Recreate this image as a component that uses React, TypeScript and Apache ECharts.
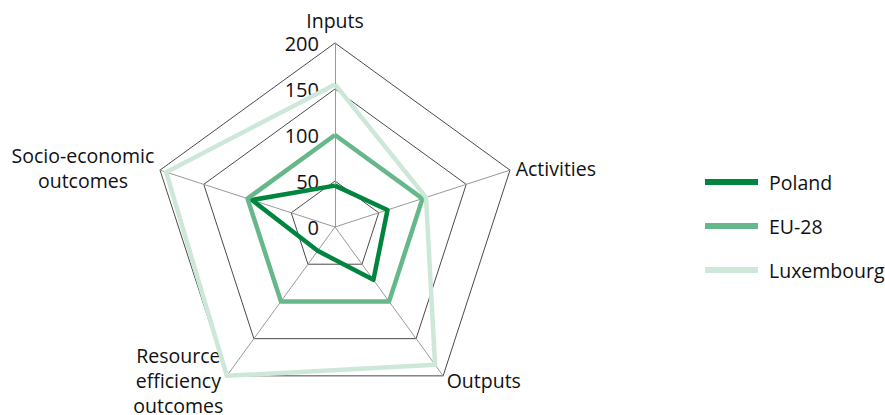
import React, { useEffect, useRef } from "react";
import * as echarts from "echarts";

// Indicators in clockwise order starting at the top
const indicators = ["Inputs", "Activities", "Outputs", "Resource\nefficiency\noutcomes", "Socio-economic\noutcomes"];
const poland = [45, 60, 71, 32, 95];
const eu28 = [100, 100, 100, 100, 100];
const luxembourg = [155, 104, 185, 200, 193];
const seriesNames = ["Poland", "EU-28", "Luxembourg"];
const tickMin = 0;
const tickMax = 200;
const colors = ["#00853f", "#66b88a", "#cde8d8"];

// ECharts radar runs counter-clockwise; reorder so the picture runs clockwise
const order = [0, 4, 3, 2, 1];

export default function App() {
  const ref = useRef<HTMLDivElement>(null);
  useEffect(() => {
    document.body.style.margin = "0";
    const chart = echarts.init(ref.current!, null, { renderer: "svg" });
    const font = "'Open Sans', sans-serif";
    const fs = 19.5;
    const data = [poland, eu28, luxembourg];
    chart.setOption({
      animation: false,
      legend: {
        orient: "vertical",
        left: 700,
        top: 165,
        itemGap: 20,
        itemWidth: 53,
        itemHeight: 6,
        icon: "rect",
        textStyle: { fontFamily: font, fontSize: fs, lineHeight: 24, color: "#111", padding: [0, 0, 0, 6] },
        data: seriesNames,
      },
      radar: {
        center: [335, 227],
        radius: 184,
        startAngle: 90,
        shape: "polygon",
        splitNumber: 4,
        axisName: {
          color: "#111",
          fontFamily: font,
          fontSize: fs,
          lineHeight: 25,
          formatter: (name: string) =>
            name
              .split("\n")
              .map((l) => "{c|" + l + "}")
              .join("\n"),
          rich: {
            c: { align: "center", fontFamily: font, fontSize: fs, lineHeight: 25, color: "#111" },
          },
        },
        nameGap: 6,
        axisLine: { lineStyle: { color: "#999", width: 1 } },
        splitLine: { lineStyle: { color: "#4a4a4a", width: 1 } },
        splitArea: { show: false },
        axisTick: { show: false },
        axisLabel: { show: false },
        indicator: order.map((k, i) => ({
          name: indicators[k],
          min: tickMin,
          max: tickMax,
          axisLabel:
            i === 0
              ? { show: true, color: "#111", fontFamily: font, fontSize: 20, margin: 16 }
              : { show: false },
        })),
      },
      series: [
        {
          type: "radar",
          symbol: "none",
          data: data.map((d, i) => ({
            name: seriesNames[i],
            value: order.map((k) => d[k]),
            lineStyle: { color: colors[i], width: 4.5 },
            itemStyle: { color: colors[i] },
          })),
          z: 2,
        },
      ],
    });
    return () => chart.dispose();
  }, []);
  return <div ref={ref} style={{ width: 885, height: 415 }} />;
}
